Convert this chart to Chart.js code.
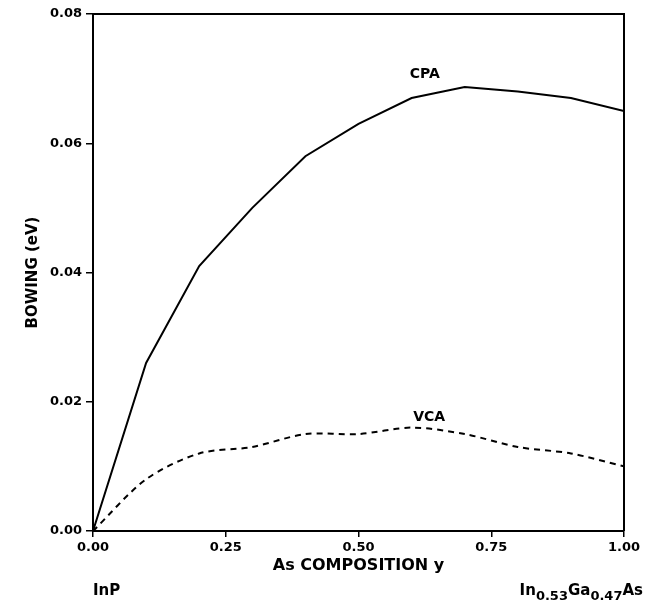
<!DOCTYPE html>
<html>
<head>
<meta charset="utf-8">
<script src="https://cdn.jsdelivr.net/npm/chart.js@4"></script>
<style>
  html, body { margin: 0; padding: 0; background: #fff; }
  #wrap { width: 647px; height: 605px; }
</style>
</head>
<body>
<div id="wrap"><canvas id="bowingChart" width="647" height="605"></canvas></div>
<script>
// As composition y (x axis)
const composition = [0, 0.1, 0.2, 0.3, 0.4, 0.5, 0.6, 0.7, 0.8, 0.9, 1.0];
// bowing in eV
const cpaBowing = [0, 0.026, 0.041, 0.050, 0.058, 0.063, 0.067, 0.0687, 0.068, 0.067, 0.065];
const vcaBowing = [0, 0.008, 0.012, 0.013, 0.015, 0.015, 0.016, 0.015, 0.013, 0.012, 0.010];
const xTicks = [0, 0.25, 0.5, 0.75, 1.0];
const yTicks = [0, 0.02, 0.04, 0.06, 0.08];

const FONT = '"DejaVu Sans", "Liberation Sans", sans-serif';

function toPoints(xs, ys) {
    return xs.map((x, i) => ({ x: x, y: ys[i] }));
}

// curve labels, frame and the end-member names under the axis
const annotations = {
    id: 'annotations',
    afterDraw(chart) {
        const { ctx, chartArea, scales } = chart;
        const xs = scales.x;
        const ys = scales.y;
        ctx.save();

        ctx.strokeStyle = '#000';
        ctx.lineWidth = 2;
        ctx.beginPath();
        ctx.moveTo(chartArea.left, chartArea.top);
        ctx.lineTo(chartArea.right, chartArea.top);
        ctx.lineTo(chartArea.right, chartArea.bottom);
        ctx.stroke();

        ctx.fillStyle = '#000';
        ctx.textBaseline = 'middle';
        ctx.textAlign = 'center';
        ctx.font = 'bold 14px ' + FONT;
        ctx.fillText('CPA', xs.getPixelForValue(0.625), ys.getPixelForValue(0.0707));
        ctx.fillText('VCA', xs.getPixelForValue(0.633), ys.getPixelForValue(0.0176));

        const baseY = chartArea.bottom + 60;
        ctx.textAlign = 'left';
        ctx.textBaseline = 'middle';
        ctx.font = 'bold 15px ' + FONT;
        ctx.fillText('InP', xs.getPixelForValue(0), baseY);

        const parts = [
            { t: 'In', sub: false },
            { t: '0.53', sub: true },
            { t: 'Ga', sub: false },
            { t: '0.47', sub: true },
            { t: 'As', sub: false },
        ];
        const mainFont = 'bold 15px ' + FONT;
        const subFont = 'bold 13px ' + FONT;
        let total = 0;
        parts.forEach((p) => {
            ctx.font = p.sub ? subFont : mainFont;
            p.w = ctx.measureText(p.t).width;
            total += p.w;
        });
        let x = 643 - total;
        parts.forEach((p) => {
            ctx.font = p.sub ? subFont : mainFont;
            ctx.fillText(p.t, x, p.sub ? baseY + 6 : baseY);
            x += p.w;
        });
        ctx.restore();
    },
};

new Chart(document.getElementById('bowingChart'), {
    type: 'line',
    data: {
        datasets: [
            {
                label: 'CPA',
                data: toPoints(composition, cpaBowing),
                borderColor: '#000',
                borderWidth: 2,
                pointRadius: 0,
                tension: 0,
                fill: false,
            },
            {
                label: 'VCA',
                data: toPoints(composition, vcaBowing),
                borderColor: '#000',
                borderWidth: 2,
                borderDash: [6, 5],
                pointRadius: 0,
                tension: 0.3,
                fill: false,
            },
        ],
    },
    options: {
        responsive: false,
        animation: false,
        layout: { padding: { top: 14, right: 23, left: 0, bottom: 0 } },
        plugins: { legend: { display: false }, tooltip: { enabled: false } },
        scales: {
            x: {
                type: 'linear',
                min: 0,
                max: 1,
                afterBuildTicks: (scale) => { scale.ticks = xTicks.map((v) => ({ value: v })); },
                afterFit: (scale) => { scale.height = 74; },
                ticks: {
                    callback: (v) => Number(v).toFixed(2),
                    color: '#000',
                    font: { family: FONT, size: 13, weight: 'bold' },
                    padding: 3,
                    maxRotation: 0,
                },
                grid: { drawOnChartArea: false, color: '#000', lineWidth: 1.5, tickLength: 6 },
                border: { color: '#000', width: 2 },
                title: {
                    display: true,
                    text: 'As COMPOSITION y',
                    color: '#000',
                    font: { family: FONT, size: 16, weight: 'bold' },
                    padding: { top: 0, bottom: 30 },
                },
            },
            y: {
                min: 0,
                max: 0.08,
                afterBuildTicks: (scale) => { scale.ticks = yTicks.map((v) => ({ value: v })); },
                afterFit: (scale) => { scale.width = 93; },
                ticks: {
                    callback: (v) => Number(v).toFixed(2),
                    color: '#000',
                    font: { family: FONT, size: 13, weight: 'bold' },
                    padding: 4,
                },
                grid: { drawOnChartArea: false, color: '#000', lineWidth: 1.5, tickLength: 7 },
                border: { color: '#000', width: 2 },
                title: {
                    display: true,
                    text: 'BOWING (eV)',
                    color: '#000',
                    font: { family: FONT, size: 15, weight: 'bold' },
                    padding: { top: 24, bottom: 0 },
                },
            },
        },
    },
    plugins: [annotations],
});
</script>
</body>
</html>
